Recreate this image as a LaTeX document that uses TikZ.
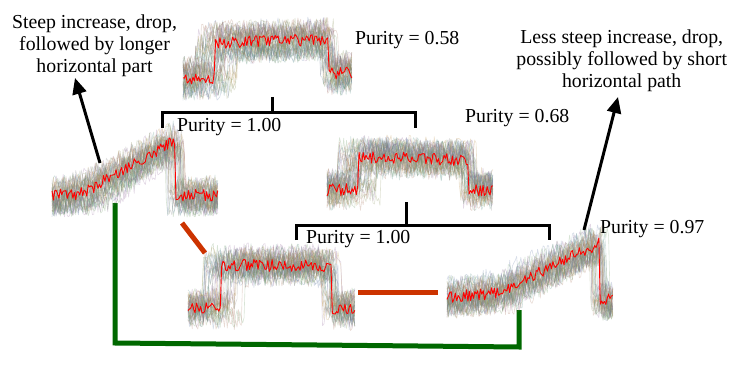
\documentclass[tikz,border=0pt]{standalone}
\usepackage{fontspec}
\setmainfont{Liberation Serif}
\usetikzlibrary{arrows.meta}
\definecolor{redline}{RGB}{255,0,0}
\definecolor{conred}{RGB}{204,51,0}
\definecolor{congreen}{RGB}{0,104,0}
\definecolor{c0}{RGB}{130,130,130}
\definecolor{c1}{RGB}{135,145,90}
\definecolor{c2}{RGB}{90,145,135}
\definecolor{c3}{RGB}{165,115,90}
\definecolor{c4}{RGB}{145,105,155}
\definecolor{c5}{RGB}{100,125,165}
\definecolor{c6}{RGB}{185,140,70}
\definecolor{c7}{RGB}{105,150,95}
% #1 x0, #2 width, #3 t1, #4 t2, #5 a0, #6 a1, #7 b1, #8 b2, #9 c
\newcommand\tsplot[9]{%
  \foreach \k in {1,...,40}{%
    \pgfmathsetmacro\ta{#3+0.14*rand}%
    \pgfmathsetmacro\tb{#4+0.06*rand}%
    \pgfmathsetmacro\off{12*rand}%
    \pgfmathtruncatemacro\m{mod(\k,8)}%
    \draw[color=c\m, opacity=0.26, line width=0.6pt, line join=round]
      plot[samples=120, domain=0:1]
      ({#1+#2*\x}, {\off + 11*rand + ((\x<\ta) ? (#5+(#6-#5)*\x/\ta) : ((\x<\tb) ? (#7+(#8-#7)*(\x-\ta)/(\tb-\ta)) : #9))});
  }%
  \draw[redline, line width=0.9pt, line join=round]
    plot[samples=120, domain=0:1]
    ({#1+#2*\x}, {6*rand + ((\x<#3) ? (#5+(#6-#5)*\x/#3) : ((\x<#4) ? (#7+(#8-#7)*(\x-#3)/(#4-#3)) : #9))});
}
\tikzset{
  anno/.style={align=center, inner sep=0pt, font=\fontsize{19.8}{22}\selectfont},
  lab/.style={inner sep=0pt, anchor=base west, font=\fontsize{19.8}{22}\selectfont},
  bracket/.style={line width=3pt, line join=miter},
  arr/.style={line width=3pt, -{Triangle[length=16pt,width=14pt]}},
  redcon/.style={conred, line width=5pt},
  greencon/.style={congreen, line width=5pt, line join=miter},
  seriesbox/.style={draw=none, inner sep=0pt, anchor=north west}
}
\begin{document}
\begin{tikzpicture}[x=1pt, y=-1pt]
\useasboundingbox (0,0) rectangle (737,369);
\pgfmathsetseed{42}

% series placeholders
\node[seriesbox, minimum width=169pt, minimum height=95pt] (A) at (183,5) {};
\node[seriesbox, minimum width=166pt, minimum height=95pt] (B) at (52,125) {};
\node[seriesbox, minimum width=166pt, minimum height=95pt] (C) at (327,115) {};
\node[seriesbox, minimum width=167pt, minimum height=95pt] (D) at (188,240) {};
\node[seriesbox, minimum width=166pt, minimum height=95pt] (E) at (447,232) {};

% green connector (behind)
\coordinate (g1) at (115,203);
\coordinate (g2) at (115,343);
\coordinate (g3) at (519,347);
\coordinate (g4) at (519,310);
\draw[greencon] (g1) -- (g2) -- (g3) -- (g4);

% time series
\tsplot{183}{169}{0.19}{0.86}{78}{78}{43}{39}{73}
\tsplot{52}{166}{0.19}{0.74}{196}{193}{193}{140}{195}
\tsplot{327}{166}{0.19}{0.85}{190}{189}{157}{160}{190}
\tsplot{188}{167}{0.2}{0.86}{307}{307}{265}{266}{308}
\tsplot{447}{166}{0.3}{0.92}{297}{293}{293}{243}{300}

% red connectors
\coordinate (r1) at (182,223);
\coordinate (r2) at (205,253);
\coordinate (r3) at (358,292);
\coordinate (r4) at (438,292);
\draw[redcon] (r1) -- (r2);
\draw[redcon] (r3) -- (r4);

% brackets
\coordinate (b1s) at (272.7,97);
\coordinate (b1m) at (272.7,112.3);
\draw[bracket] (162.7,128) -- (162.7,112.3) -- (415.7,112.3) -- (415.7,128);
\draw[bracket] (b1s) -- (b1m);
\coordinate (b2s) at (406.7,202);
\coordinate (b2m) at (406.7,225);
\draw[bracket] (296,240) -- (296,225) -- (549,225) -- (549,240);
\draw[bracket] (b2s) -- (b2m);

% labels
\node[lab] (pA) at (355,45) {Purity = 0.58};
\node[lab] (pB) at (177,131.5) {Purity = 1.00};
\node[lab] (pC) at (465,123) {Purity = 0.68};
\node[lab] (pD) at (306,243) {Purity = 1.00};
\node[lab] (pE) at (600,233) {Purity = 0.97};

% annotations
\node[anno, anchor=north] (noteL) at (94.5,14.5) {Steep increase, drop,\\followed by longer\\horizontal part};
\node[anno, anchor=north] (noteR) at (621.7,29.5) {Less steep increase, drop,\\possibly followed by short\\horizontal path};

\coordinate (tailL) at (100,163);
\coordinate (tipL) at (75,78);
\coordinate (tailR) at (584,230);
\coordinate (tipR) at (618,97);
\draw[arr] (tailL) -- (tipL);
\draw[arr] (tailR) -- (tipR);
\end{tikzpicture}
\end{document}
